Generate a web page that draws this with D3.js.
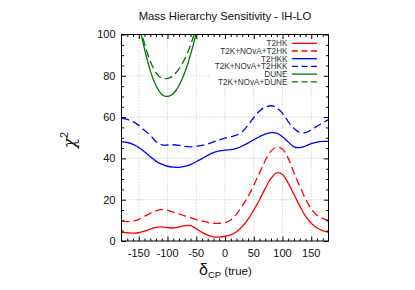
<!DOCTYPE html>
<html>
<head>
<meta charset="utf-8">
<script src="https://cdn.jsdelivr.net/npm/d3@7"></script>
<style>
  body { margin: 0; background: #fff; }
  svg { display: block; font-family: "Liberation Sans", Arial, sans-serif; }
</style>
</head>
<body>
<svg id="chart" width="415" height="290"></svg>
<script>
// delta_CP (true) sample points, every 10 degrees
const deltaCP = d3.range(-180, 181, 10);

// chi^2 values
const t2hk = [4.2, 4.0, 3.8, 4.0, 4.8, 5.8, 6.6, 6.8, 6.5, 6.3, 6.8, 7.4, 7.4, 6.0, 4.2, 2.8, 2.0, 1.9, 2.3,
              3.0, 4.5, 7.0, 10.5, 15, 20, 25.5, 30.3, 33, 32.2, 28, 22.5, 17, 12, 8.6, 6.3, 5.0, 4.2];
const t2kNovaT2hk = [9.7, 9.4, 9.6, 10.5, 12, 13.4, 14.6, 15.2, 14.8, 14, 13.1, 12.2, 11.3, 10.4, 9.7, 9.0, 8.6, 8.6, 8.9,
                     10.2, 13, 17, 21.5, 27, 33, 39, 43.5, 45.5, 44.5, 40, 33, 26.5, 20.5, 15.5, 12.5, 11, 10];
const t2hkk = [48.1, 47.7, 46.8, 45.3, 43.2, 40.8, 38.7, 37.2, 36.2, 35.8, 35.7, 36.1, 37, 38.4, 39.9, 41.5, 42.8, 43.6, 44,
               44.2, 44.8, 46, 47.4, 49, 50.5, 51.8, 52.5, 52.2, 50.5, 48, 45.6, 45.2, 46, 47.2, 47.9, 48.2, 48.2];
const t2kNovaT2hkk = [59.4, 58.9, 57.8, 56, 53.6, 51.2, 48.2, 46.6, 46.5, 46.6, 46.3, 45.8, 45.6, 45.8, 46.3, 47, 48, 49, 49.8,
                      50.5, 51.3, 53, 56, 59.8, 63, 64.8, 65.5, 64.5, 61.8, 57.8, 54.5, 52.6, 52.5, 53.8, 55.6, 57.2, 58.8];

// DUNE curves leave the frame above 100, so only the part near the minimum
const duneDelta = d3.range(-160, -19, 5);
const dune = [126, 116, 107, 99.5, 93, 87.5, 82.5, 78.5, 75.3, 72.8, 71, 70.2, 70, 70.4, 71.4, 73, 75.3, 78.2, 81.6,
              85.6, 90.2, 95.2, 100.8, 106.5, 113, 119.5, 126.5, 134, 142];
const duneNova = [121, 113.5, 107, 101, 95.5, 91, 87, 84, 81.5, 79.8, 78.9, 78.6, 78.7, 79.2, 80.2, 81.6, 83.4, 85.6, 88.2,
                  91.2, 94.8, 99, 103.5, 108.5, 114, 120, 126.5, 133, 140];

const xTicks = [-150, -100, -50, 0, 50, 100, 150];
const yTicks = [0, 20, 40, 60, 80, 100];

const series = [
  { name: "T2HK", xs: deltaCP, ys: t2hk, color: "#ff0000", dash: null },
  { name: "T2K+NOvA+T2HK", xs: deltaCP, ys: t2kNovaT2hk, color: "#ff0000", dash: "8,4" },
  { name: "T2HKK", xs: deltaCP, ys: t2hkk, color: "#0000ff", dash: null },
  { name: "T2K+NOvA+T2HKK", xs: deltaCP, ys: t2kNovaT2hkk, color: "#0000ff", dash: "8,4" },
  { name: "DUNE", xs: duneDelta, ys: dune, color: "#007800", dash: null },
  { name: "T2K+NOvA+DUNE", xs: duneDelta, ys: duneNova, color: "#007800", dash: "8,4" }
];

const svg = d3.select("#chart");
const pLeft = 121.5, pRight = 328.5, pTop = 34.5, pBottom = 241;

const x = d3.scaleLinear().domain([-180, 180]).range([pLeft, pRight]);
const y = d3.scaleLinear().domain([0, 100]).range([pBottom, pTop]);

svg.append("defs").append("clipPath").attr("id", "plot-clip")
  .append("rect").attr("x", pLeft).attr("y", pTop).attr("width", pRight - pLeft).attr("height", pBottom - pTop);

// dotted grid
const grid = svg.append("g").attr("stroke", "#b0b0b0").attr("stroke-width", 0.8).attr("stroke-dasharray", "1,2");
grid.selectAll(".gx").data(xTicks).join("line")
  .attr("x1", d => x(d)).attr("x2", d => x(d)).attr("y1", pTop).attr("y2", pBottom);
grid.selectAll(".gy").data(yTicks.slice(1, -1)).join("line")
  .attr("y1", d => y(d)).attr("y2", d => y(d)).attr("x1", pLeft).attr("x2", pRight);

// curves
const plot = svg.append("g").attr("clip-path", "url(#plot-clip)");
series.forEach(s => {
  const line = d3.line()
    .x((d, i) => x(s.xs[i]))
    .y(d => y(d))
    .curve(d3.curveCatmullRom.alpha(0.5));
  plot.append("path")
    .attr("d", line(s.ys))
    .attr("fill", "none")
    .attr("stroke", s.color)
    .attr("stroke-width", 1.3)
    .attr("stroke-dasharray", s.dash);
});

// legend with white background
const legend = svg.append("g");
legend.append("rect").attr("x", 210).attr("y", 38).attr("width", 111).attr("height", 48).attr("fill", "#fff");
series.forEach((s, i) => {
  const ly = 43.3 + i * 7.7;
  legend.append("text")
    .attr("x", 287.5).attr("y", ly)
    .attr("dy", "0.35em")
    .attr("text-anchor", "end")
    .attr("font-size", 8.2)
    .attr("fill", "#333")
    .text(s.name);
  legend.append("line")
    .attr("x1", 292).attr("x2", 317).attr("y1", ly).attr("y2", ly)
    .attr("stroke", s.color).attr("stroke-width", 1.3)
    .attr("stroke-dasharray", s.dash ? "6,3.5" : null);
});

// tick marks on all four sides, pointing inward
const xMinor = d3.range(-170, 180, 10).filter(d => d % 50 !== 0);
const yMinor = d3.range(5, 100, 5).filter(d => d % 20 !== 0);
const addTicks = (axisFn, scale, vals, size, tr) => {
  svg.append("g").attr("transform", tr)
    .call(axisFn(scale).tickValues(vals).tickSize(size).tickFormat(""))
    .call(g => g.select(".domain").remove())
    .call(g => g.selectAll("line").attr("stroke", "#000"));
};
addTicks(d3.axisBottom, x, xTicks, -4.5, `translate(0,${pBottom})`);
addTicks(d3.axisBottom, x, xMinor, -2.5, `translate(0,${pBottom})`);
addTicks(d3.axisTop, x, xTicks, -4.5, `translate(0,${pTop})`);
addTicks(d3.axisTop, x, xMinor, -2.5, `translate(0,${pTop})`);
addTicks(d3.axisLeft, y, yTicks, -4.5, `translate(${pLeft},0)`);
addTicks(d3.axisLeft, y, yMinor, -2.5, `translate(${pLeft},0)`);
addTicks(d3.axisRight, y, yTicks, -4.5, `translate(${pRight},0)`);
addTicks(d3.axisRight, y, yMinor, -2.5, `translate(${pRight},0)`);

// frame
svg.append("rect").attr("x", pLeft).attr("y", pTop).attr("width", pRight - pLeft).attr("height", pBottom - pTop)
  .attr("fill", "none").attr("stroke", "#000").attr("stroke-width", 1);

// tick labels
svg.append("g").selectAll("text").data(xTicks).join("text")
  .attr("x", d => x(d)).attr("y", 253.5).attr("dy", "0.35em")
  .attr("text-anchor", "middle").attr("font-size", 11).attr("fill", "#111")
  .text(d => d);
svg.append("g").selectAll("text").data(yTicks).join("text")
  .attr("x", 115.5).attr("y", d => y(d)).attr("dy", "0.35em")
  .attr("text-anchor", "end").attr("font-size", 11).attr("fill", "#111")
  .text(d => d);

// title
svg.append("text").attr("x", 225).attr("y", 20)
  .attr("text-anchor", "middle").attr("font-size", 11.3).attr("fill", "#111")
  .text("Mass Hierarchy Sensitivity - IH-LO");

// axis titles
const yl = svg.append("text").attr("transform", "translate(75,140) rotate(-90)")
  .attr("text-anchor", "middle").attr("fill", "#111");
yl.append("tspan").attr("font-size", 17).attr("font-family", "DejaVu Serif").attr("font-style", "italic").text("χ");
yl.append("tspan").attr("font-size", 11).attr("dy", -7).text("2");

const xl = svg.append("text").attr("x", 199).attr("y", 275).attr("fill", "#111");
xl.append("tspan").attr("font-size", 16).text("δ");
xl.append("tspan").attr("font-size", 9.5).attr("dy", 2.5).text("CP");
xl.append("tspan").attr("font-size", 11.5).attr("dy", -2.5).text(" (true)");
</script>
</body>
</html>
